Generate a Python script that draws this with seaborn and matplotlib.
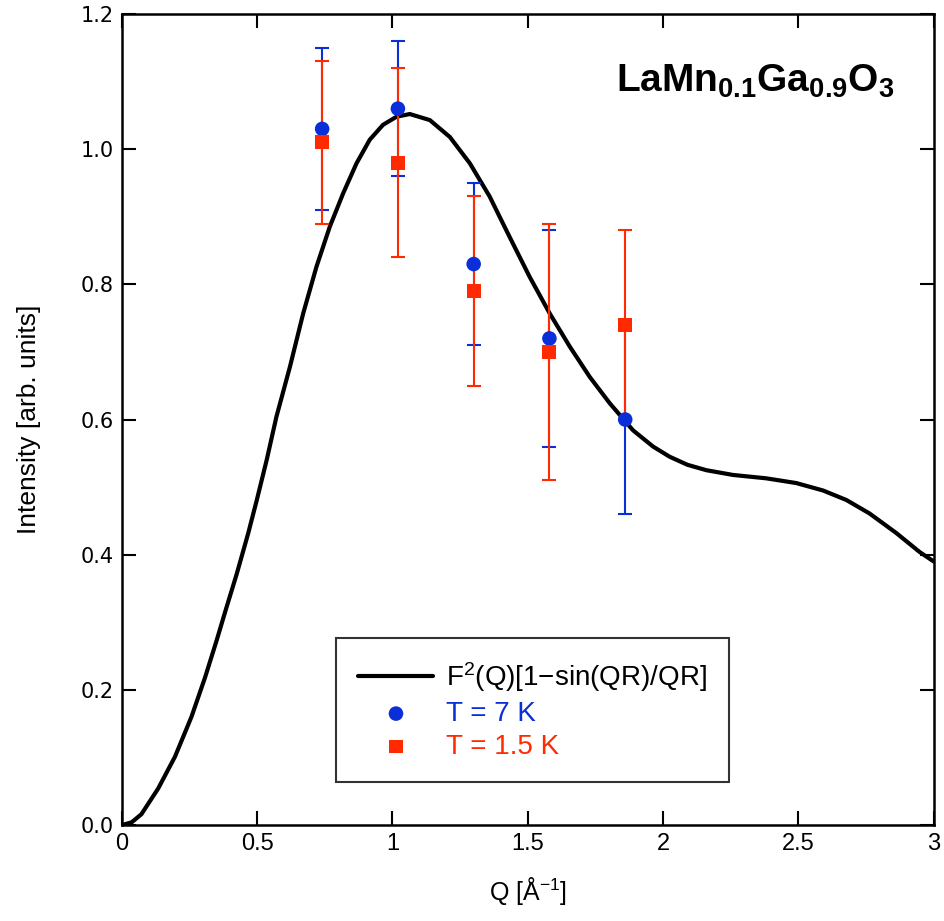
import numpy as np
import pandas as pd
import matplotlib
matplotlib.use("Agg")
import matplotlib.pyplot as plt
import seaborn as sns

# curve: F^2(Q)[1 - sin(QR)/QR]
curve_q = [0.0, 0.036, 0.072, 0.134, 0.196, 0.257, 0.307, 0.350, 0.385, 0.424, 0.467,
           0.498, 0.535, 0.571, 0.621, 0.670, 0.719, 0.768, 0.818, 0.867, 0.916, 0.965,
           1.015, 1.064, 1.138, 1.212, 1.286, 1.359, 1.433, 1.507, 1.581, 1.655,
           1.729, 1.803, 1.889, 1.963, 2.024, 2.090, 2.160, 2.258, 2.381, 2.492,
           2.591, 2.677, 2.763, 2.862, 2.948, 3.0]
curve_i = [0.0, 0.004, 0.016, 0.054, 0.101, 0.160, 0.218, 0.273, 0.320, 0.371, 0.432,
           0.480, 0.540, 0.604, 0.678, 0.757, 0.826, 0.885, 0.935, 0.979, 1.014, 1.036,
           1.048, 1.052, 1.043, 1.018, 0.979, 0.930, 0.870, 0.811, 0.757, 0.708,
           0.663, 0.624, 0.584, 0.560, 0.545, 0.533, 0.525, 0.518, 0.513, 0.506,
           0.495, 0.481, 0.461, 0.432, 0.404, 0.390]

q_points = [0.74, 1.02, 1.30, 1.58, 1.86]
i_7k = [1.03, 1.06, 0.83, 0.72, 0.60]
err_7k = [0.12, 0.10, 0.12, 0.16, 0.14]
i_15k = [1.01, 0.98, 0.79, 0.70, 0.74]
err_15k = [0.12, 0.14, 0.14, 0.19, 0.14]

blue = "#0a2fd8"
red = "#ff2a00"

sns.set_style("ticks")
plt.rcParams['font.family'] = ['Liberation Sans', 'DejaVu Sans']
plt.rcParams.update({
    'text.color': 'black', 'axes.labelcolor': 'black', 'axes.edgecolor': 'black',
    'xtick.color': 'black', 'ytick.color': 'black',
    'mathtext.fontset': 'custom', 'mathtext.rm': 'Liberation Sans',
    'mathtext.bf': 'Liberation Sans:bold', 'mathtext.it': 'Liberation Sans:italic',
})

fig = plt.figure(figsize=(9.45, 9.21), dpi=100)
ax = fig.add_axes([0.129, 0.1042, 0.859, 0.8806])

curve_df = pd.DataFrame({"Q": curve_q, "I": curve_i})
sns.lineplot(data=curve_df, x="Q", y="I", ax=ax, color="black", lw=3,
             label=r"F$^2$(Q)[1$-$sin(QR)/QR]", zorder=3)

ax.errorbar(q_points, i_7k, yerr=err_7k, fmt="none", ecolor=blue, elinewidth=1.5,
            capsize=5, capthick=1.5, zorder=4)
ax.errorbar(q_points, i_15k, yerr=err_15k, fmt="none", ecolor=red, elinewidth=1.5,
            capsize=5, capthick=1.5, zorder=5)

sns.scatterplot(x=q_points, y=i_7k, ax=ax, marker="o", s=110, color=blue,
                edgecolor="none", label="T = 7 K", zorder=6)
sns.scatterplot(x=q_points, y=i_15k, ax=ax, marker="s", s=100, color=red,
                edgecolor="none", label="T = 1.5 K", zorder=7)

ax.set_xlim(0, 3)
ax.set_ylim(0, 1.2)
ax.set_xticks([0, 0.5, 1, 1.5, 2, 2.5, 3])
ax.set_xticklabels(["0", "0.5", "1", "1.5", "2", "2.5", "3"],
                   family=['Liberation Sans Narrow', 'Liberation Sans'], fontsize=17)
ax.set_yticks([0, 0.2, 0.4, 0.6, 0.8, 1.0, 1.2])
ax.set_yticklabels(["0.0", "0.2", "0.4", "0.6", "0.8", "1.0", "1.2"],
                   family=['DejaVu Sans'], fontsize=15)
ax.tick_params(direction="in", length=10, width=1.5, top=True, right=True, pad=6)
for sp in ax.spines.values():
    sp.set_linewidth(1.8)
    sp.set_visible(True)

ax.set_xlabel(r"Q [Å$^{-1}$]", fontsize=18, labelpad=14)
ax.set_ylabel("Intensity [arb. units]", fontsize=19, labelpad=28)

ax.text(0.952, 0.904, r"$\mathbf{LaMn_{0.1}Ga_{0.9}O_3}$", transform=ax.transAxes,
        ha="right", va="baseline", fontsize=28)

leg = ax.legend(loc="lower center", bbox_to_anchor=(0.506, 0.053), fontsize=20,
                frameon=True, fancybox=False, edgecolor="black", borderpad=0.8,
                handlelength=2.7, handletextpad=0.45, labelspacing=0.25,
                borderaxespad=0)
leg.get_frame().set_linewidth(1.5)
for t, c in zip(leg.get_texts(), ["black", blue, red]):
    t.set_color(c)

fig.savefig("out.png", dpi=100)
